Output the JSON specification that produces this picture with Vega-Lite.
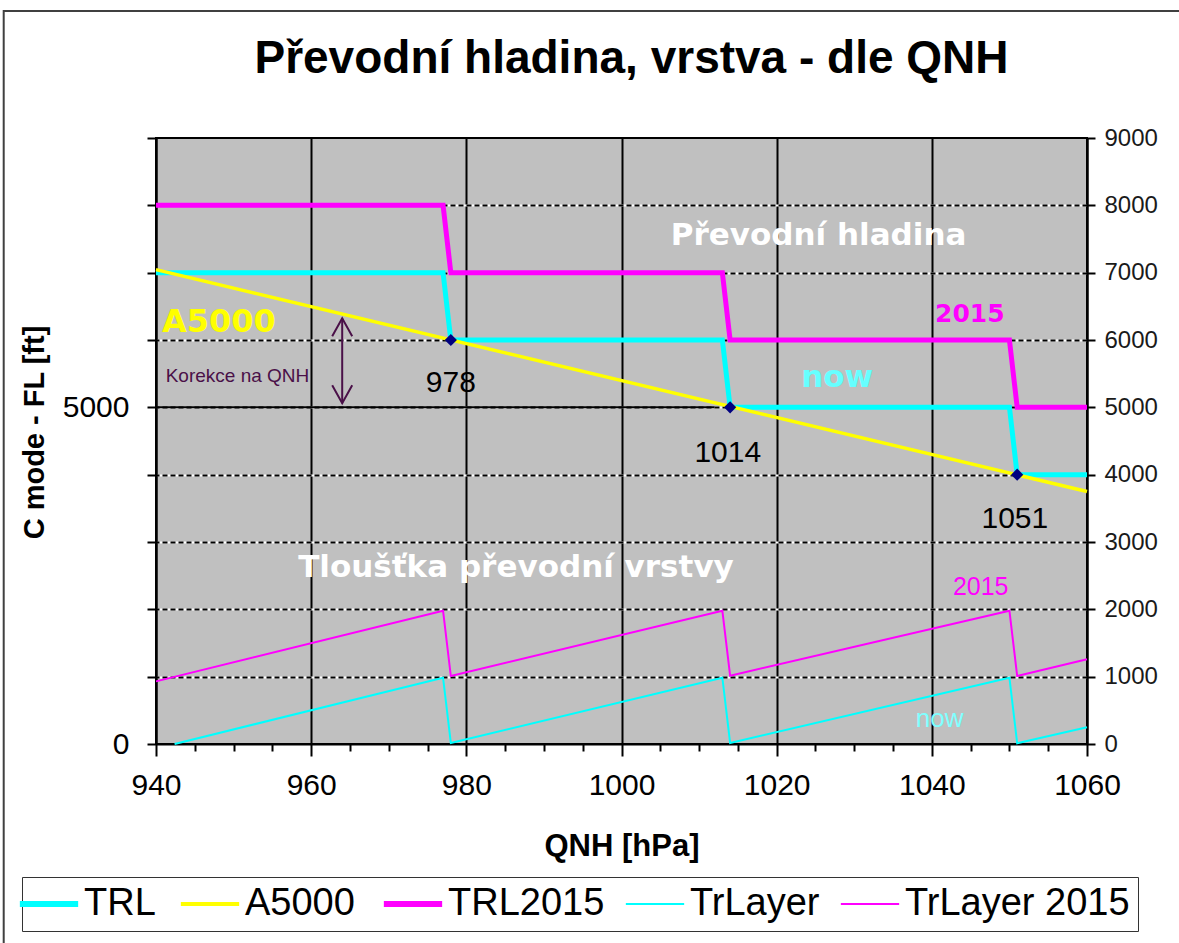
{
  "$schema": "https://vega.github.io/schema/vega-lite/v6.json",
  "width": 931,
  "height": 606,
  "autosize": {"type": "none"},
  "padding": {"left": 156, "top": 138, "right": 92, "bottom": 199},
  "background": "#ffffff",
  "title": {
    "text": "Převodní hladina, vrstva - dle QNH",
    "font": "Liberation Sans",
    "fontSize": 46,
    "fontWeight": "bold",
    "color": "#000000",
    "anchor": "middle",
    "baseline": "alphabetic",
    "offset": -109,
    "dx": 10
  },
  "datasets": {
    "series": [
      {"qnh": 940, "ft": 7000, "series": "TRL"},
      {"qnh": 977, "ft": 7000, "series": "TRL"},
      {"qnh": 978, "ft": 6000, "series": "TRL"},
      {"qnh": 1013, "ft": 6000, "series": "TRL"},
      {"qnh": 1014, "ft": 5000, "series": "TRL"},
      {"qnh": 1050, "ft": 5000, "series": "TRL"},
      {"qnh": 1051, "ft": 4000, "series": "TRL"},
      {"qnh": 1060, "ft": 4000, "series": "TRL"},
      {"qnh": 940, "ft": 7045, "series": "A5000"},
      {"qnh": 1060, "ft": 3750, "series": "A5000"},
      {"qnh": 940, "ft": 8000, "series": "TRL2015"},
      {"qnh": 977, "ft": 8000, "series": "TRL2015"},
      {"qnh": 978, "ft": 7000, "series": "TRL2015"},
      {"qnh": 1013, "ft": 7000, "series": "TRL2015"},
      {"qnh": 1014, "ft": 6000, "series": "TRL2015"},
      {"qnh": 1050, "ft": 6000, "series": "TRL2015"},
      {"qnh": 1051, "ft": 5000, "series": "TRL2015"},
      {"qnh": 1060, "ft": 5000, "series": "TRL2015"},
      {"qnh": 942.4, "ft": 0, "series": "TrLayer"},
      {"qnh": 977, "ft": 985, "series": "TrLayer"},
      {"qnh": 978, "ft": 15, "series": "TrLayer"},
      {"qnh": 1013, "ft": 985, "series": "TrLayer"},
      {"qnh": 1014, "ft": 15, "series": "TrLayer"},
      {"qnh": 1050, "ft": 985, "series": "TrLayer"},
      {"qnh": 1051, "ft": 10, "series": "TrLayer"},
      {"qnh": 1060, "ft": 250, "series": "TrLayer"},
      {"qnh": 940, "ft": 930, "series": "TrLayer 2015"},
      {"qnh": 977, "ft": 1980, "series": "TrLayer 2015"},
      {"qnh": 978, "ft": 1010, "series": "TrLayer 2015"},
      {"qnh": 1013, "ft": 1980, "series": "TrLayer 2015"},
      {"qnh": 1014, "ft": 1015, "series": "TrLayer 2015"},
      {"qnh": 1050, "ft": 1980, "series": "TrLayer 2015"},
      {"qnh": 1051, "ft": 1010, "series": "TrLayer 2015"},
      {"qnh": 1060, "ft": 1258, "series": "TrLayer 2015"}
    ],
    "ref5000": [
      {"qnh": 940, "ft": 5000},
      {"qnh": 1012, "ft": 5000}
    ],
    "markers": [
      {"qnh": 978, "ft": 6000},
      {"qnh": 1014, "ft": 5000},
      {"qnh": 1051, "ft": 4000}
    ],
    "arrow": [
      {"qnh": 964, "ft": 6323, "end": "top"},
      {"qnh": 964, "ft": 5060, "end": "bottom"}
    ],
    "labels": [
      {"qnh": 1025.4, "ft": 7411, "text": "Převodní hladina", "g": "levelTitle"},
      {"qnh": 986.4, "ft": 2480, "text": "Tloušťka převodní vrstvy", "g": "layerTitle"},
      {"qnh": 948.1, "ft": 6124, "text": "A5000", "g": "a5000"},
      {"qnh": 950.5, "ft": 5381, "text": "Korekce na QNH", "g": "korekce"},
      {"qnh": 978.0, "ft": 5232, "text": "978", "g": "value"},
      {"qnh": 1013.7, "ft": 4193, "text": "1014", "g": "value"},
      {"qnh": 1050.7, "ft": 3208, "text": "1051", "g": "value"},
      {"qnh": 1027.8, "ft": 5302, "text": "now", "g": "nowBold"},
      {"qnh": 1044.9, "ft": 6272, "text": "2015", "g": "y2015Bold"},
      {"qnh": 1046.3, "ft": 2213, "text": "2015", "g": "y2015Thin"},
      {"qnh": 1041.0, "ft": 257, "text": "now", "g": "nowThin"}
    ]
  },
  "layer": [
    {
      "data": {"name": "ref5000"},
      "mark": {"type": "line", "color": "#000000", "strokeWidth": 2},
      "encoding": {
        "x": {
          "field": "qnh", "type": "quantitative",
          "scale": {"domain": [940, 1060], "nice": false, "zero": false},
          "axis": {
            "orient": "bottom",
            "values": [940, 960, 980, 1000, 1020, 1040, 1060],
            "format": "d",
            "labelFont": "Liberation Sans", "labelFontSize": 30, "labelColor": "#000000",
            "labelBaseline": "alphabetic", "labelPadding": 38, "labelAlign": "center",
            "labelFlush": false, "labelOverlap": false,
            "tickSize": 12, "tickColor": "#000000", "tickWidth": 2,
            "domainColor": "#000000", "domainWidth": 2,
            "grid": true, "gridColor": "#000000", "gridWidth": 2,
            "title": "QNH [hPa]", "titleFont": "Liberation Sans", "titleFontSize": 31,
            "titleFontWeight": "bold", "titleColor": "#000000",
            "titleBaseline": "alphabetic", "titleY": 111
          }
        },
        "y": {
          "field": "ft", "type": "quantitative",
          "scale": {"domain": [0, 9000], "nice": false, "zero": false},
          "axis": {
            "orient": "left",
            "values": [0,1000,2000,3000,4000,5000,6000,7000,8000,9000],
            "format": "d",
            "labelExpr": "datum.value === 0 || datum.value === 5000 ? datum.label : ''",
            "labelFont": "Liberation Sans", "labelFontSize": 30, "labelColor": "#000000",
            "labelPadding": 18, "labelOverlap": false,
            "tickSize": 9, "tickColor": "#000000", "tickWidth": 2,
            "domainColor": "#000000", "domainWidth": 2,
            "grid": true, "gridColor": "#ffffff", "gridWidth": 2,
            "gridOpacity": {"condition": {"test": "datum.value > 0 && datum.value < 9000", "value": 1}, "value": 0},
            "title": "C mode - FL [ft]", "titleFont": "Liberation Sans", "titleFontSize": 29,
            "titleFontWeight": "bold", "titleColor": "#000000",
            "titleAngle": -90, "titleBaseline": "alphabetic", "titleAlign": "center",
            "titleX": -113, "titleY": 294
          }
        }
      }
    },
    {
      "data": {"name": "series"},
      "mark": {"type": "line", "strokeCap": "butt"},
      "encoding": {
        "x": {
          "field": "qnh", "type": "quantitative",
          "scale": {"domain": [940, 1060], "nice": false, "zero": false},
          "axis": {
            "orient": "bottom",
            "values": [945,950,955,965,970,975,985,990,995,1005,1010,1015,1025,1030,1035,1045,1050,1055],
            "labels": false, "domain": false, "grid": false,
            "tickSize": 7, "tickColor": "#000000", "tickWidth": 2,
            "title": null
          }
        },
        "y": {
          "field": "ft", "type": "quantitative",
          "scale": {"domain": [0, 9000], "nice": false, "zero": false},
          "axis": {
            "orient": "right",
            "values": [0,1000,2000,3000,4000,5000,6000,7000,8000,9000],
            "format": "d",
            "labelFont": "Liberation Sans", "labelFontSize": 24, "labelColor": "#1a1a1a",
            "labelPadding": 9, "labelOverlap": false,
            "tickSize": 8, "tickColor": "#000000", "tickWidth": 2,
            "domainColor": "#000000", "domainWidth": 2,
            "grid": true, "gridColor": "#000000", "gridWidth": 2, "gridDash": [5, 3],
            "gridOpacity": {"condition": {"test": "datum.value > 0 && datum.value < 9000", "value": 1}, "value": 0},
            "title": null
          }
        },
        "color": {
          "field": "series", "type": "nominal",
          "scale": {
            "domain": ["TRL", "A5000", "TRL2015", "TrLayer", "TrLayer 2015"],
            "range": ["#00FFFF", "#FFFF00", "#FF00FF", "#00FFFF", "#FF00FF"]
          },
          "legend": {
            "orient": "none", "legendX": -134, "legendY": 739,
            "direction": "horizontal", "columns": 5, "title": null,
            "symbolType": "stroke", "symbolSize": 3400,
            "labelFont": "Liberation Sans", "labelFontSize": 38, "labelColor": "#000000",
            "labelOffset": 16, "columnPadding": 16, "padding": 8, "labelLimit": 400,
            "strokeColor": "#333333", "fillColor": "#ffffff",
            "encode": {
              "symbols": {
                "update": {
                  "strokeWidth": {"signal": "datum.value === 'TRL' || datum.value === 'TRL2015' ? 6 : (datum.value === 'A5000' ? 4 : 2)"}
                }
              }
            }
          }
        },
        "strokeWidth": {
          "condition": [
            {"test": "datum.series === 'TRL' || datum.series === 'TRL2015'", "value": 5},
            {"test": "datum.series === 'A5000'", "value": 3.5}
          ],
          "value": 2
        }
      }
    },
    {
      "data": {"name": "arrow"},
      "mark": {"type": "line", "color": "#4a1048", "strokeWidth": 2},
      "encoding": {
        "x": {"field": "qnh", "type": "quantitative", "axis": null},
        "y": {"field": "ft", "type": "quantitative", "axis": null}
      }
    },
    {
      "data": {"name": "arrow"},
      "transform": [{"filter": "datum.end === 'top'"}],
      "mark": {"type": "point", "shape": "M-1,1.8L0,0L1,1.8", "filled": false, "size": 400, "color": "#4a1048", "strokeWidth": 2, "opacity": 1},
      "encoding": {
        "x": {"field": "qnh", "type": "quantitative", "axis": null},
        "y": {"field": "ft", "type": "quantitative", "axis": null}
      }
    },
    {
      "data": {"name": "arrow"},
      "transform": [{"filter": "datum.end === 'bottom'"}],
      "mark": {"type": "point", "shape": "M-1,-1.8L0,0L1,-1.8", "filled": false, "size": 400, "color": "#4a1048", "strokeWidth": 2, "opacity": 1},
      "encoding": {
        "x": {"field": "qnh", "type": "quantitative", "axis": null},
        "y": {"field": "ft", "type": "quantitative", "axis": null}
      }
    },
    {
      "data": {"name": "markers"},
      "mark": {"type": "point", "shape": "diamond", "filled": true, "size": 150, "color": "#000080", "opacity": 1},
      "encoding": {
        "x": {"field": "qnh", "type": "quantitative", "axis": null},
        "y": {"field": "ft", "type": "quantitative", "axis": null}
      }
    },
    {
      "data": {"name": "labels"},
      "transform": [{"filter": "datum.g === 'levelTitle'"}],
      "mark": {"type": "text", "font": "DejaVu Sans", "fontWeight": "bold", "fontSize": 31, "color": "#ffffff", "align": "center", "baseline": "alphabetic"},
      "encoding": {
        "x": {"field": "qnh", "type": "quantitative", "axis": null},
        "y": {"field": "ft", "type": "quantitative", "axis": null},
        "text": {"field": "text"}
      }
    },
    {
      "data": {"name": "labels"},
      "transform": [{"filter": "datum.g === 'layerTitle'"}],
      "mark": {"type": "text", "font": "DejaVu Sans", "fontWeight": "bold", "fontSize": 31, "color": "#ffffff", "align": "center", "baseline": "alphabetic"},
      "encoding": {
        "x": {"field": "qnh", "type": "quantitative", "axis": null},
        "y": {"field": "ft", "type": "quantitative", "axis": null},
        "text": {"field": "text"}
      }
    },
    {
      "data": {"name": "labels"},
      "transform": [{"filter": "datum.g === 'a5000'"}],
      "mark": {"type": "text", "font": "DejaVu Sans", "fontWeight": "bold", "fontSize": 32, "color": "#FFFF00", "align": "center", "baseline": "alphabetic"},
      "encoding": {
        "x": {"field": "qnh", "type": "quantitative", "axis": null},
        "y": {"field": "ft", "type": "quantitative", "axis": null},
        "text": {"field": "text"}
      }
    },
    {
      "data": {"name": "labels"},
      "transform": [{"filter": "datum.g === 'nowBold'"}],
      "mark": {"type": "text", "font": "DejaVu Sans", "fontWeight": "bold", "fontSize": 31, "color": "#66FFFF", "align": "center", "baseline": "alphabetic"},
      "encoding": {
        "x": {"field": "qnh", "type": "quantitative", "axis": null},
        "y": {"field": "ft", "type": "quantitative", "axis": null},
        "text": {"field": "text"}
      }
    },
    {
      "data": {"name": "labels"},
      "transform": [{"filter": "datum.g === 'y2015Bold'"}],
      "mark": {"type": "text", "font": "DejaVu Sans", "fontWeight": "bold", "fontSize": 25, "color": "#FF00FF", "align": "center", "baseline": "alphabetic"},
      "encoding": {
        "x": {"field": "qnh", "type": "quantitative", "axis": null},
        "y": {"field": "ft", "type": "quantitative", "axis": null},
        "text": {"field": "text"}
      }
    },
    {
      "data": {"name": "labels"},
      "transform": [{"filter": "datum.g === 'value'"}],
      "mark": {"type": "text", "font": "Liberation Sans", "fontSize": 30, "color": "#000000", "align": "center", "baseline": "alphabetic"},
      "encoding": {
        "x": {"field": "qnh", "type": "quantitative", "axis": null},
        "y": {"field": "ft", "type": "quantitative", "axis": null},
        "text": {"field": "text"}
      }
    },
    {
      "data": {"name": "labels"},
      "transform": [{"filter": "datum.g === 'korekce'"}],
      "mark": {"type": "text", "font": "Liberation Sans", "fontSize": 19, "color": "#4a1048", "align": "center", "baseline": "alphabetic"},
      "encoding": {
        "x": {"field": "qnh", "type": "quantitative", "axis": null},
        "y": {"field": "ft", "type": "quantitative", "axis": null},
        "text": {"field": "text"}
      }
    },
    {
      "data": {"name": "labels"},
      "transform": [{"filter": "datum.g === 'y2015Thin'"}],
      "mark": {"type": "text", "font": "Liberation Sans", "fontSize": 25, "color": "#FF00FF", "align": "center", "baseline": "alphabetic"},
      "encoding": {
        "x": {"field": "qnh", "type": "quantitative", "axis": null},
        "y": {"field": "ft", "type": "quantitative", "axis": null},
        "text": {"field": "text"}
      }
    },
    {
      "data": {"name": "labels"},
      "transform": [{"filter": "datum.g === 'nowThin'"}],
      "mark": {"type": "text", "font": "Liberation Sans", "fontSize": 26, "color": "#80FFFF", "align": "center", "baseline": "alphabetic"},
      "encoding": {
        "x": {"field": "qnh", "type": "quantitative", "axis": null},
        "y": {"field": "ft", "type": "quantitative", "axis": null},
        "text": {"field": "text"}
      }
    },
    {
      "data": {"values": [{"frame": "chart"}]},
      "mark": {"type": "rect", "clip": false, "fill": "#ffffff", "fillOpacity": 0, "stroke": "#404040", "strokeWidth": 2},
      "encoding": {
        "x": {"datum": 920.37, "type": "quantitative", "axis": null},
        "x2": {"datum": 1080},
        "y": {"datum": 10887, "type": "quantitative", "axis": null},
        "y2": {"datum": -4000}
      }
    }
  ],
  "resolve": {"axis": {"x": "independent", "y": "independent"}},
  "config": {
    "view": {"fill": "#C0C0C0", "stroke": "#000000", "strokeWidth": 2}
  }
}
